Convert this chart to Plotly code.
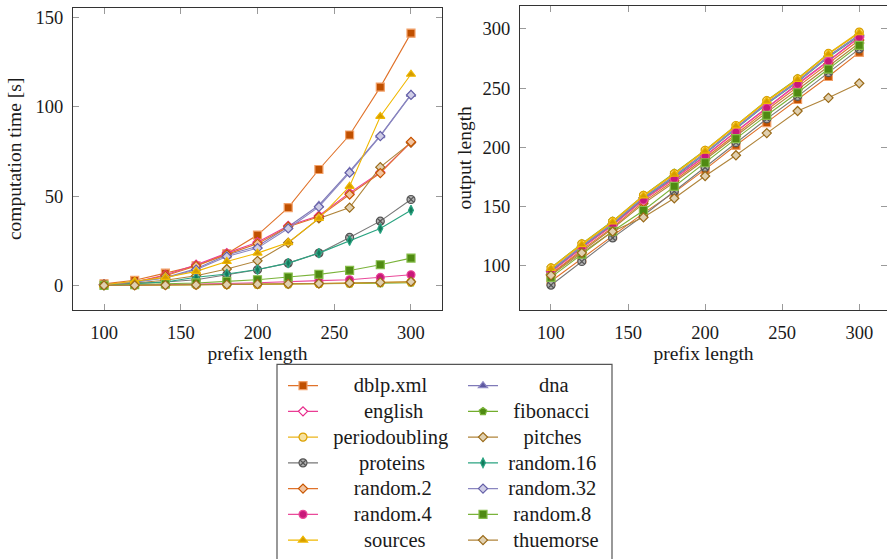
import plotly.graph_objects as go

# ---------------- data ----------------
prefix_length = [100, 120, 140, 160, 180, 200, 220, 240, 260, 280, 300]

series_names = ["dblp.xml", "dna", "english", "fibonacci", "periodoubling", "pitches",
                "proteins", "random.16", "random.2", "random.32", "random.4", "random.8",
                "sources", "thuemorse"]

# computation time [s]
time_dblp = [1.0, 3.0, 7.0, 11.1, 17.8, 28.3, 43.7, 65.0, 84.3, 111.1, 141.3]
time_dna = [0.5, 2.0, 4.5, 9.5, 17.2, 22.0, 33.0, 45.0, 64.0, 84.0, 107.0]
time_english = [0.5, 2.0, 6.0, 11.7, 18.2, 24.3, 33.5, 39.1, 51.9, 63.5, 80.2]
time_fibonacci = [0.1, 0.2, 0.3, 0.4, 0.5, 0.6, 0.7, 0.9, 1.1, 1.3, 1.6]
time_periodoubling = [0.1, 0.2, 0.3, 0.4, 0.5, 0.7, 0.9, 1.1, 1.4, 1.7, 2.1]
time_pitches = [0.5, 1.5, 3.0, 5.5, 9.3, 13.9, 24.0, 37.6, 43.7, 66.3, 80.0]
time_proteins = [0.3, 1.0, 2.0, 3.3, 6.1, 8.9, 12.6, 18.2, 27.0, 36.1, 48.2]
time_random16 = [0.3, 1.0, 2.0, 4.7, 6.5, 9.0, 12.6, 18.2, 25.2, 32.0, 42.2]
time_random2 = [0.5, 2.0, 5.5, 11.0, 17.5, 23.5, 33.0, 38.5, 51.0, 63.0, 80.5]
time_random32 = [0.5, 2.0, 4.3, 8.9, 16.3, 21.0, 32.0, 44.1, 63.2, 83.7, 106.7]
time_random4 = [0.1, 0.3, 0.5, 0.8, 1.2, 1.6, 2.0, 2.8, 3.3, 4.6, 6.1]
time_random8 = [0.2, 0.5, 1.0, 1.5, 2.4, 3.3, 4.8, 6.3, 8.5, 11.7, 15.4]
time_sources = [0.5, 2.4, 4.6, 8.0, 13.5, 18.2, 24.1, 37.6, 55.6, 94.7, 118.3]
time_thuemorse = [0.1, 0.2, 0.3, 0.4, 0.6, 0.8, 1.0, 1.2, 1.5, 1.8, 2.2]

# output length
len_dblp = [87.0, 106.0, 125.5, 144.5, 162.0, 181.4, 201.7, 220.8, 240.3, 259.7, 280.0]
len_dna = [96.5, 117.0, 136.0, 158.0, 176.0, 195.5, 216.5, 237.5, 256.0, 277.0, 295.0]
len_english = [95.0, 115.5, 134.5, 156.0, 174.0, 193.0, 213.3, 233.7, 253.6, 273.0, 293.0]
len_fibonacci = [98.5, 118.8, 137.8, 159.5, 178.3, 197.5, 218.5, 239.5, 258.0, 279.0, 296.5]
len_periodoubling = [98.3, 118.6, 137.5, 159.5, 177.8, 197.5, 218.4, 239.3, 257.7, 279.2, 297.2]
len_pitches = [93.0, 112.5, 131.5, 152.5, 170.5, 189.5, 209.5, 229.5, 248.5, 268.5, 288.0]
len_proteins = [83.7, 103.7, 123.6, 142.5, 163.0, 183.0, 204.0, 224.0, 243.0, 263.0, 283.0]
len_random16 = [95.5, 116.0, 135.0, 157.0, 175.0, 194.5, 215.5, 236.5, 255.0, 276.0, 294.0]
len_random2 = [93.0, 113.5, 132.5, 154.0, 172.0, 191.0, 211.0, 231.5, 251.0, 270.5, 290.5]
len_random32 = [96.0, 116.5, 135.5, 157.5, 175.5, 195.0, 216.0, 237.0, 255.5, 276.5, 294.5]
len_random4 = [94.5, 115.0, 134.0, 155.5, 173.5, 192.5, 213.0, 233.3, 253.0, 272.5, 292.5]
len_random8 = [90.3, 110.0, 129.2, 146.7, 167.0, 187.0, 207.3, 227.0, 246.0, 266.0, 286.0]
len_sources = [97.8, 118.0, 137.0, 159.0, 177.3, 196.8, 218.0, 238.8, 257.2, 278.6, 296.6]
len_thuemorse = [92.0, 111.0, 129.0, 141.0, 157.0, 175.8, 193.3, 212.0, 230.6, 241.7, 254.0]

x_ticks = [100, 150, 200, 250, 300]
time_ticks = [0, 50, 100, 150]
len_ticks = [100, 150, 200, 250, 300]

time_data = [time_dblp, time_dna, time_english, time_fibonacci, time_periodoubling, time_pitches,
             time_proteins, time_random16, time_random2, time_random32, time_random4, time_random8,
             time_sources, time_thuemorse]
len_data = [len_dblp, len_dna, len_english, len_fibonacci, len_periodoubling, len_pitches,
            len_proteins, len_random16, len_random2, len_random32, len_random4, len_random8,
            len_sources, len_thuemorse]

# ---------------- styles ----------------
# (line colour, marker symbol, marker fill, marker outline, marker size)
styles = {
    "dblp.xml": ("#e0722a", "square", "#c05000", "#f2a068", 8),
    "dna": ("#7f7ab8", "triangle-up", "#5d58a0", "#8f8ac4", 8),
    "english": ("#ea3c94", "diamond", "#ffffff", "#e7298a", 7),
    "fibonacci": ("#72ad2c", "pentagon", "#4f8a12", "#7ab33a", 8),
    "periodoubling": ("#ebb41a", "circle", "#f7e2a0", "#dba000", 8),
    "pitches": ("#b0843a", "diamond", "#e0d0b0", "#9a6a18", 7),
    "proteins": ("#777777", "circle-x", "#b0b0b0", "#555555", 8),
    "random.16": ("#2aa381", "diamond-tall", "#137a5c", "#2aa381", 7),
    "random.2": ("#e0722a", "diamond", "#f2c4a0", "#c95600", 7),
    "random.32": ("#8a86c0", "diamond", "#cfcde6", "#6560a8", 7),
    "random.4": ("#ea4a9a", "circle", "#c8187a", "#ea4a9a", 8),
    "random.8": ("#7ab33a", "square", "#4f8a12", "#86bd4a", 8),
    "sources": ("#f0b800", "triangle-up", "#d49c00", "#f0b800", 8),
    "thuemorse": ("#b0843a", "diamond", "#e0d0b0", "#9a6a18", 7),
}

FONT = "Liberation Serif, Times New Roman, serif"
TXT = "#1a1a1a"

# nbsp padding so legend labels appear centred in their column (like the reference)
pad = {"dblp.xml": 6, "english": 8, "periodoubling": 2, "proteins": 7, "random.2": 6,
       "random.4": 6, "sources": 8, "dna": 7, "fibonacci": 2, "pitches": 4,
       "random.16": 1, "random.32": 1, "random.8": 2, "thuemorse": 2}

fig = go.Figure()

for i, name in enumerate(series_names):
    lc, sym, fill, outline, size = styles[name]
    legend_id = "legend" if i % 2 == 0 else "legend2"
    label = '<span style="font-size:20.5px">' + "\u00a0" * pad[name] + name + "</span>"
    marker = dict(symbol=sym, size=size, color=fill, line=dict(color=outline, width=1.2))
    fig.add_trace(go.Scatter(
        x=prefix_length, y=time_data[i], mode="lines+markers", name=label,
        line=dict(color=lc, width=1.1), marker=marker,
        xaxis="x", yaxis="y", legendgroup=name, legend=legend_id, showlegend=True))
for i, name in enumerate(series_names):
    lc, sym, fill, outline, size = styles[name]
    marker = dict(symbol=sym, size=size, color=fill, line=dict(color=outline, width=1.2))
    fig.add_trace(go.Scatter(
        x=prefix_length, y=len_data[i], mode="lines+markers", name=name,
        line=dict(color=lc, width=1.1), marker=marker,
        xaxis="x2", yaxis="y2", legendgroup=name, showlegend=False))

W, H = 887, 559

axis_common = dict(
    showgrid=False, zeroline=False, showline=True, linecolor="#333333", linewidth=1.2,
    mirror="ticks", ticks="inside", ticklen=6, tickcolor="#9a9a9a", tickwidth=1,
    tickfont=dict(family=FONT, size=18.5, color=TXT), automargin=False,
)
title_font = dict(family=FONT, size=19.5, color=TXT)

fig.update_layout(
    width=W, height=H,
    margin=dict(l=0, r=0, t=0, b=0),
    paper_bgcolor="white", plot_bgcolor="white",
    font=dict(family=FONT, size=18, color=TXT),
    xaxis=dict(axis_common, domain=[73 / W, 442 / W], range=[79.8, 320.2],
               tickvals=x_ticks, anchor="y", ticklabelstandoff=6,
               title=dict(text="prefix length", font=title_font, standoff=3)),
    yaxis=dict(axis_common, domain=[1 - 312 / H, 1 - 8 / H], range=[-13.5, 155.4],
               tickvals=time_ticks, anchor="x", ticklabelstandoff=5,
               title=dict(text="computation time [s]", font=title_font, standoff=8)),
    xaxis2=dict(axis_common, domain=[520 / W, 1.0], range=[79.9, 318.0],
                tickvals=x_ticks, anchor="y2", ticklabelstandoff=6,
                title=dict(text="prefix length", font=title_font, standoff=3)),
    yaxis2=dict(axis_common, domain=[1 - 312 / H, 1 - 6 / H], range=[63.0, 319.2],
                tickvals=len_ticks, anchor="x2", ticklabelstandoff=5,
                title=dict(text="output length", font=title_font, standoff=5)),
    legend=dict(x=283 / W, y=1 - 370.4 / H, xanchor="left", yanchor="top",
                orientation="v", bgcolor="rgba(0,0,0,0)", borderwidth=0,
                font=dict(family=FONT, size=17.5, color=TXT), itemwidth=30,
                tracegroupgap=0),
    legend2=dict(x=463 / W, y=1 - 370.4 / H, xanchor="left", yanchor="top",
                 orientation="v", bgcolor="rgba(0,0,0,0)", borderwidth=0,
                 font=dict(family=FONT, size=17.5, color=TXT), itemwidth=30,
                 tracegroupgap=0),
    shapes=[dict(type="rect", xref="paper", yref="paper",
                 x0=277 / W, x1=612 / W, y0=-0.05, y1=1 - 367 / H,
                 line=dict(color="#555555", width=1.2), fillcolor="rgba(0,0,0,0)", layer="below")],
)

fig.write_html("out.html", config={"displayModeBar": False},
               post_script="document.body.style.margin='0';document.body.style.overflow='hidden';")
